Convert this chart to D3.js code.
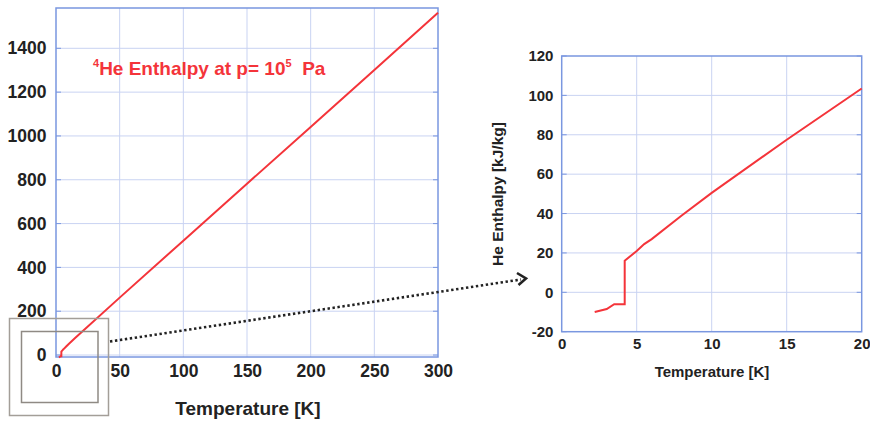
<!DOCTYPE html>
<html>
<head>
<meta charset="utf-8">
<script src="https://cdn.jsdelivr.net/npm/d3@7"></script>
<style>
  body { margin: 0; background: #fff; }
  svg { display: block; font-family: "Liberation Sans", Arial, sans-serif; }
</style>
</head>
<body>
<div id="chart"></div>
<script>
// helium-4 enthalpy at 1e5 Pa
const tempK    = [2.2, 3.0, 3.5, 4.2, 4.2, 5, 5.5, 6, 8, 10, 15, 20, 50, 100, 150, 200, 250, 300];
const enthalpy = [-10, -8.5, -6, -6, 16, 21, 24.5, 27, 39, 50.5, 77.5, 103.5, 262, 522, 782, 1041, 1301, 1562];

const bigXTicks = [0, 50, 100, 150, 200, 250, 300];
const bigYTicks = [0, 200, 400, 600, 800, 1000, 1200, 1400];
const zoomXTicks = [0, 5, 10, 15, 20];
const zoomYTicks = [-20, 0, 20, 40, 60, 80, 100, 120];

const points = tempK.map((t, i) => ({ t: t, h: enthalpy[i] }));

const gridCol = "#c9d3f2";
const frameCol = "#7a97e0";
const lineCol = "#f4343a";

const svg = d3.select("#chart").append("svg").attr("width", 870).attr("height", 423);

function drawPanel(x, y, xTicks, yTicks, data, fontSize, tickCol) {
  const g = svg.append("g");
  const [x0, x1] = x.range();
  const [y0, y1] = y.range();

  // grid
  g.selectAll(".gx").data(xTicks.filter(d => x(d) > x0 + 1 && x(d) < x1 - 1)).enter()
    .append("line")
    .attr("x1", d => x(d)).attr("x2", d => x(d))
    .attr("y1", y0).attr("y2", y1)
    .attr("stroke", gridCol).attr("stroke-width", 1);
  g.selectAll(".gy").data(yTicks.filter(d => y(d) < y0 - 1 && y(d) > y1 + 1)).enter()
    .append("line")
    .attr("x1", x0).attr("x2", x1)
    .attr("y1", d => y(d)).attr("y2", d => y(d))
    .attr("stroke", gridCol).attr("stroke-width", 1);

  // short inner ticks on the frame
  yTicks.forEach(d => {
    g.append("line").attr("x1", x0).attr("x2", x0 + 5).attr("y1", y(d)).attr("y2", y(d))
      .attr("stroke", frameCol).attr("stroke-width", 1);
    g.append("line").attr("x1", x1 - 5).attr("x2", x1).attr("y1", y(d)).attr("y2", y(d))
      .attr("stroke", frameCol).attr("stroke-width", 1);
  });

  g.append("rect")
    .attr("x", x0).attr("y", y1)
    .attr("width", x1 - x0).attr("height", y0 - y1)
    .attr("fill", "none").attr("stroke", frameCol).attr("stroke-width", 1.5);

  const line = d3.line().x(d => x(d.t)).y(d => y(d.h));
  g.append("path")
    .datum(data)
    .attr("d", line)
    .attr("fill", "none")
    .attr("stroke", lineCol)
    .attr("stroke-width", 2);

  const plain = d => String(d);
  const xa = g.append("g").attr("transform", `translate(0,${y0})`)
    .call(d3.axisBottom(x).tickValues(xTicks).tickFormat(plain).tickSize(0).tickPadding(fontSize * 0.45));
  const ya = g.append("g").attr("transform", `translate(${x0},0)`)
    .call(d3.axisLeft(y).tickValues(yTicks).tickFormat(plain).tickSize(0).tickPadding(fontSize * 0.55));
  [xa, ya].forEach(a => {
    a.select(".domain").remove();
    a.selectAll("text")
      .attr("font-family", "'Liberation Sans', Arial, sans-serif")
      .attr("font-size", fontSize)
      .attr("font-weight", "bold")
      .attr("fill", tickCol);
  });
  return g;
}

// big panel
const xBig = d3.scaleLinear().domain([0, 300]).range([56, 438]);
const yBig = d3.scaleLinear().domain([-9, 1584]).range([357, 8]);
drawPanel(xBig, yBig, bigXTicks, bigYTicks, points, 17.5, "#222");

svg.append("text")
  .attr("x", 248).attr("y", 415)
  .attr("text-anchor", "middle")
  .attr("font-size", 19).attr("font-weight", "bold").attr("fill", "#222")
  .text("Temperature [K]");

const note = svg.append("text")
  .attr("x", 93).attr("y", 75)
  .attr("font-size", 19).attr("font-weight", "bold").attr("fill", lineCol);
note.append("tspan").attr("font-size", 11).attr("dy", -8).text("4");
note.append("tspan").attr("dy", 8).text("He Enthalpy at p= 10");
note.append("tspan").attr("font-size", 11).attr("dy", -8).text("5");
note.append("tspan").attr("dy", 8).text("\u00a0 Pa");

// zoomed panel
const xZoom = d3.scaleLinear().domain([0, 20]).range([561.7, 861.7]);
const yZoom = d3.scaleLinear().domain([-20, 120]).range([331.7, 56]);
drawPanel(xZoom, yZoom, zoomXTicks, zoomYTicks, points.filter(d => d.t <= 20), 15, "#222");

svg.append("text")
  .attr("x", 712).attr("y", 377)
  .attr("text-anchor", "middle")
  .attr("font-size", 15).attr("font-weight", "bold").attr("fill", "#222")
  .text("Temperature [K]");

svg.append("text")
  .attr("transform", "translate(503,194) rotate(-90)")
  .attr("text-anchor", "middle")
  .attr("font-size", 15.5).attr("font-weight", "bold").attr("fill", "#222")
  .text("He Enthalpy [kJ/kg]");

// zoom boxes around the origin
svg.append("rect").attr("x", 9.5).attr("y", 318.5).attr("width", 99).attr("height", 97)
  .attr("fill", "none").attr("stroke", "#a39e98").attr("stroke-width", 1.5);
svg.append("rect").attr("x", 21.5).attr("y", 331.5).attr("width", 76.5).attr("height", 71)
  .attr("fill", "none").attr("stroke", "#8f8a84").attr("stroke-width", 1.5);

// dotted arrow to the zoomed panel
svg.append("line")
  .attr("x1", 110).attr("y1", 341.5).attr("x2", 521).attr("y2", 279.5)
  .attr("stroke", "#222").attr("stroke-width", 2.6)
  .attr("stroke-dasharray", "2.4,2.6");
svg.append("path")
  .attr("d", "M517,273 L526,278.5 L518.5,285")
  .attr("fill", "none").attr("stroke", "#222").attr("stroke-width", 2.6)
  .attr("stroke-linejoin", "miter");
</script>
</body>
</html>
